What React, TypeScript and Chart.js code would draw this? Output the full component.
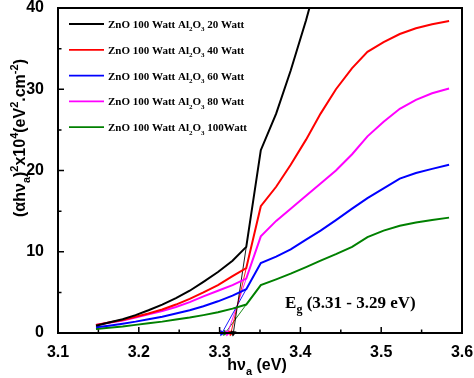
import React, { useEffect, useRef } from 'react';
import { Chart, registerables } from 'chart.js';

Chart.register(...registerables);

// Photon energy hν (eV) of the sampled points
const energyEV = [
  3.147, 3.163, 3.180, 3.196, 3.212, 3.229, 3.246, 3.263, 3.280, 3.298, 3.316, 3.333,
  3.351, 3.370, 3.388, 3.407, 3.425, 3.444, 3.464, 3.483, 3.503, 3.523, 3.543, 3.563, 3.584,
];

// (αhν)² ×10⁴ values for each Al2O3 power
const al2o3_20W = [0.9, 1.3, 1.7, 2.2, 2.8, 3.5, 4.3, 5.2, 6.3, 7.5, 8.9, 10.6, 22.5, 27.0, 32.3, 38.5, 45.0, 52.0];
const al2o3_40W = [1.0, 1.3, 1.6, 2.0, 2.4, 2.9, 3.5, 4.2, 5.0, 5.9, 7.0, 8.0, 15.6, 18.0, 20.7, 23.8, 27.0, 30.0, 32.6, 34.6, 35.8, 36.8, 37.5, 38.0, 38.4];
const al2o3_60W = [0.7, 0.9, 1.15, 1.4, 1.7, 2.0, 2.4, 2.8, 3.3, 3.9, 4.6, 5.4, 8.6, 9.4, 10.3, 11.5, 12.6, 13.9, 15.3, 16.6, 17.8, 19.0, 19.7, 20.2, 20.7];
const al2o3_80W = [1.0, 1.25, 1.55, 1.9, 2.3, 2.7, 3.2, 3.8, 4.5, 5.2, 5.9, 6.7, 11.9, 13.8, 15.3, 16.9, 18.4, 20.0, 22.0, 24.2, 26.0, 27.6, 28.7, 29.5, 30.1];
const al2o3_100W = [0.5, 0.65, 0.8, 1.0, 1.2, 1.4, 1.65, 1.9, 2.2, 2.55, 3.0, 3.5, 5.9, 6.6, 7.3, 8.1, 8.9, 9.7, 10.6, 11.8, 12.6, 13.2, 13.6, 13.9, 14.2];

const seriesValues = [al2o3_20W, al2o3_40W, al2o3_60W, al2o3_80W, al2o3_100W];
const seriesLabels = [
  'ZnO 100 Watt Al₂O₃ 20 Watt',
  'ZnO 100 Watt Al₂O₃ 40 Watt',
  'ZnO 100 Watt Al₂O₃ 60 Watt',
  'ZnO 100 Watt Al₂O₃ 80 Watt',
  'ZnO 100 Watt Al₂O₃ 100Watt',
];
const seriesColors = ['#000000', '#ff0000', '#0000ff', '#ff00ff', '#008000'];

// Tangent (band-gap extrapolation) lines: start at the edge point, arrow tip on the axis
const tangentStartIndex = 11;
const arrowTipEV = [3.317, 3.314, 3.303, 3.310, 3.307];

// Axis ticks
const xTicks = [3.1, 3.2, 3.3, 3.4, 3.5, 3.6];
const yTicks = [0, 10, 20, 30, 40];

// Texts
const xTitle = 'hν_{a} (eV)';
const yTitle = '(αhν_{a})^{2}x10^{4}(eV^{2}.cm^{-2})';
const egText = 'E_{g} (3.31 - 3.29 eV)';
const egAt = { x: 3.381, y: 3.1 };

const SANS = '"Liberation Sans", Arial, sans-serif';
const SERIF = '"Liberation Serif", "Times New Roman", serif';

const SUB = '₀₁₂₃₄₅₆₇₈₉ₐ';
const SUBN = '0123456789a';
const SUP = '⁰¹²³⁴⁵⁶⁷⁸⁹⁻';
const SUPN = '0123456789-';

type Seg = { t: string; k: number };

function parseRich(s: string): Seg[] {
  const segs: Seg[] = [];
  let i = 0;
  const push = (t: string, k: number) => {
    const last = segs[segs.length - 1];
    if (last && last.k === k) last.t += t;
    else segs.push({ t, k });
  };
  while (i < s.length) {
    const c = s[i];
    if ((c === '_' || c === '^') && s[i + 1] === '{') {
      const end = s.indexOf('}', i);
      push(s.slice(i + 2, end), c === '^' ? 1 : -1);
      i = end + 1;
      continue;
    }
    let j = SUB.indexOf(c);
    if (j >= 0) { push(SUBN[j], -1); i++; continue; }
    j = SUP.indexOf(c);
    if (j >= 0) { push(SUPN[j], 1); i++; continue; }
    push(c, 0);
    i++;
  }
  return segs;
}

function drawRich(ctx: CanvasRenderingContext2D, s: string, x: number, y: number, size: number, family: string, align: 'left' | 'center') {
  const segs = parseRich(s);
  const fN = `bold ${size}px ${family}`;
  const fS = `bold ${Math.round(size * 0.68)}px ${family}`;
  let w = 0;
  for (const g of segs) {
    ctx.font = g.k ? fS : fN;
    w += ctx.measureText(g.t).width;
  }
  let cx = align === 'center' ? x - w / 2 : x;
  ctx.textAlign = 'left';
  ctx.textBaseline = 'alphabetic';
  for (const g of segs) {
    ctx.font = g.k ? fS : fN;
    const dy = g.k === 1 ? -size * 0.42 : g.k === -1 ? size * 0.3 : 0;
    ctx.fillText(g.t, cx, y + dy);
    cx += ctx.measureText(g.t).width;
  }
}

const decorPlugin = {
  id: 'decor',
  afterDatasetsDraw(chart: any) {
    const ctx: CanvasRenderingContext2D = chart.ctx;
    const { left, right, top, bottom } = chart.chartArea;
    const xs = chart.scales.x;
    const ys = chart.scales.y;
    ctx.save();
    ctx.fillStyle = '#000';
    ctx.strokeStyle = '#000';

    // inward ticks
    ctx.lineWidth = 1.5;
    ctx.beginPath();
    for (let i = 0; i < xTicks.length; i++) {
      const px = xs.getPixelForValue(xTicks[i]);
      ctx.moveTo(px, bottom);
      ctx.lineTo(px, bottom - 6);
      if (i < xTicks.length - 1) {
        const pm = xs.getPixelForValue((xTicks[i] + xTicks[i + 1]) / 2);
        ctx.moveTo(pm, bottom);
        ctx.lineTo(pm, bottom - 3.5);
      }
    }
    for (let i = 0; i < yTicks.length; i++) {
      const py = ys.getPixelForValue(yTicks[i]);
      ctx.moveTo(left, py);
      ctx.lineTo(left + 6, py);
      if (i < yTicks.length - 1) {
        const pm = ys.getPixelForValue((yTicks[i] + yTicks[i + 1]) / 2);
        ctx.moveTo(left, pm);
        ctx.lineTo(left + 3.5, pm);
      }
    }
    ctx.stroke();

    // frame
    ctx.lineWidth = 2;
    ctx.strokeRect(left, top, right - left, bottom - top);

    // legend
    for (let i = 0; i < seriesLabels.length; i++) {
      const ly = top + 16 + i * 25.8;
      ctx.strokeStyle = seriesColors[i];
      ctx.lineWidth = 1.8;
      ctx.beginPath();
      ctx.moveTo(left + 11, ly);
      ctx.lineTo(left + 46, ly);
      ctx.stroke();
      ctx.fillStyle = '#000';
      drawRich(ctx, seriesLabels[i], left + 50, ly + 4, 11, SERIF, 'left');
    }

    // band gap annotation
    drawRich(ctx, egText, xs.getPixelForValue(egAt.x), ys.getPixelForValue(egAt.y), 17, SERIF, 'left');

    // axis titles
    drawRich(ctx, xTitle, (left + right) / 2 - 3, 370, 16, SANS, 'center');
    ctx.save();
    ctx.translate(25, 138);
    ctx.rotate(-Math.PI / 2);
    drawRich(ctx, yTitle, 0, 0, 16, SANS, 'center');
    ctx.restore();

    ctx.restore();
  },
};

export default function App() {
  const ref = useRef<HTMLCanvasElement | null>(null);

  useEffect(() => {
    if (!ref.current) return;
    const datasets: any[] = seriesValues.map((vals, s) => ({
      label: seriesLabels[s],
      data: vals.map((v, i) => ({ x: energyEV[i], y: v })),
      borderColor: seriesColors[s],
      backgroundColor: seriesColors[s],
      borderWidth: 2,
      pointRadius: 0,
      tension: 0,
    }));
    seriesValues.forEach((vals, s) => {
      datasets.push({
        label: 'tangent ' + seriesLabels[s],
        data: [
          { x: energyEV[tangentStartIndex], y: vals[tangentStartIndex] },
          { x: arrowTipEV[s], y: 0 },
        ],
        borderColor: seriesColors[s],
        backgroundColor: seriesColors[s],
        borderWidth: 0.9,
        pointStyle: 'triangle',
        pointRadius: [0, 3.2],
        pointBorderWidth: 0.5,
        clip: false,
        pointRotation: (c: any) => {
          const d = c.chart.data.datasets[c.datasetIndex].data;
          const xs = c.chart.scales.x;
          const ys = c.chart.scales.y;
          if (!xs || !ys) return 180;
          const dx = xs.getPixelForValue(d[1].x) - xs.getPixelForValue(d[0].x);
          const dy = ys.getPixelForValue(d[1].y) - ys.getPixelForValue(d[0].y);
          return (Math.atan2(dx, -dy) * 180) / Math.PI;
        },
      });
    });

    const chart = new Chart(ref.current, {
      type: 'line',
      data: { datasets },
      options: {
        animation: false,
        responsive: false,
        layout: { padding: { left: 0, right: 12, top: 8, bottom: 0 } },
        plugins: { legend: { display: false }, tooltip: { enabled: false } },
        scales: {
          x: {
            type: 'linear',
            min: 3.1,
            max: 3.6,
            grid: { display: false },
            border: { display: false },
            afterFit: (sc: any) => {
              sc.height = 45;
              sc.paddingLeft = 0;
              sc.paddingRight = 0;
              sc.paddingTop = 0;
              sc.paddingBottom = 0;
            },
            afterBuildTicks: (sc: any) => { sc.ticks = xTicks.map((v) => ({ value: v })); },
            ticks: {
              padding: 2,
              color: '#000',
              font: { family: SANS, size: 16, weight: 'bold' },
              callback: (v: any) => Number(v).toFixed(1),
              maxRotation: 0,
            },
          },
          y: {
            min: 0,
            max: 40,
            grid: { display: false },
            border: { display: false },
            afterFit: (sc: any) => {
              sc.width = 58;
              sc.paddingLeft = 0;
              sc.paddingRight = 0;
              sc.paddingTop = 0;
              sc.paddingBottom = 0;
            },
            afterBuildTicks: (sc: any) => { sc.ticks = yTicks.map((v) => ({ value: v })); },
            ticks: {
              padding: 6,
              color: '#000',
              font: { family: SANS, size: 16, weight: 'bold' },
            },
          },
        },
      } as any,
      plugins: [decorPlugin],
    });
    return () => chart.destroy();
  }, []);

  return (
    <div style={{ position: 'fixed', left: 0, top: 0, width: 474, height: 378, background: '#fff' }}>
      <canvas ref={ref} width={474} height={378} />
    </div>
  );
}
